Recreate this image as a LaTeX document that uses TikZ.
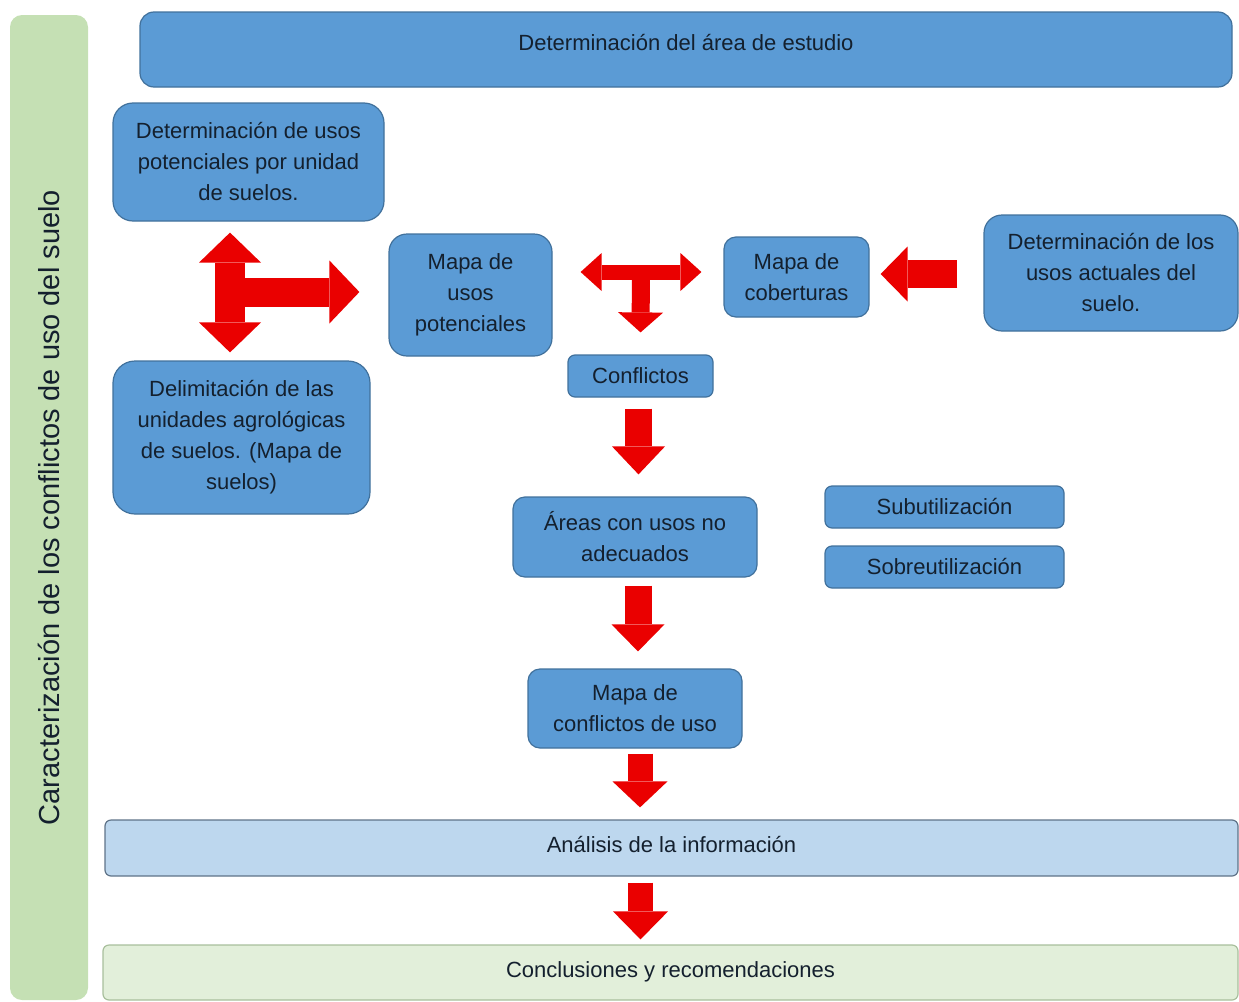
\documentclass[tikz,border=0pt]{standalone}
\usepackage{fontspec}
\setmainfont{Liberation Sans}
\usepackage{xcolor}
\usetikzlibrary{arrows.meta,calc}

\definecolor{azul}{HTML}{5B9BD5}
\definecolor{bordeazul}{HTML}{41719C}
\definecolor{azulclaro}{HTML}{BDD7EE}
\definecolor{bordegris}{HTML}{5F7388}
\definecolor{verdeclaro}{HTML}{E2EFDA}
\definecolor{bordeverde}{HTML}{A8BF9C}
\definecolor{verdebarra}{HTML}{C5E0B4}
\definecolor{rojo}{HTML}{EA0000}
\definecolor{texto}{HTML}{14202E}

\tikzset{
  caja/.style={draw=bordeazul, line width=1.2pt, fill=azul, rounded corners=12pt, text=texto,
    align=center, inner sep=2pt, font=\fontsize{22}{31}\selectfont},
  flecha/.style n args={3}{rojo, line width=#1, -{Triangle[width=#2,length=#3,line width=0pt]}},
  doble/.style n args={3}{rojo, line width=#1,
    {Triangle[width=#2,length=#3,line width=0pt]}-{Triangle[width=#2,length=#3,line width=0pt]}}
}

\begin{document}
\begin{tikzpicture}[x=1pt,y=-1pt]
\useasboundingbox (0,0) rectangle (1239,1001);

\node (barra) at (49,507.5) [rotate=90, fill=verdebarra, rounded corners=12pt, minimum width=985pt,
  minimum height=78pt, font=\fontsize{29}{35}\selectfont, text=texto] {Caracterización de los conflictos de uso del suelo};

\node (det) at (686,49.5) [caja, minimum width=1092pt, minimum height=75pt, rounded corners=14pt] {\raisebox{14pt}{Determinación del área de estudio}};
\node (pot) at (248.5,162) [caja, minimum width=271pt, minimum height=118pt, rounded corners=20pt] {Determinación de usos\\potenciales por unidad\\de suelos.};
\node (del) at (241.5,437.5) [caja, minimum width=257pt, minimum height=153pt, rounded corners=22pt] {Delimitación de las\\unidades agrológicas\\de suelos. (Mapa de\\suelos)};
\node (mpot) at (470.5,295) [caja, minimum width=163pt, minimum height=122pt, rounded corners=18pt] {Mapa de\\usos\\potenciales};
\node (mcob) at (796.5,277) [caja, minimum width=145pt, minimum height=80pt] {Mapa de\\coberturas};
\node (act) at (1111,273) [caja, minimum width=254pt, minimum height=116pt, rounded corners=18pt] {Determinación de los\\usos actuales del\\suelo.};
\node (conf) at (640.5,376) [caja, minimum width=145pt, minimum height=42pt, rounded corners=7pt] {Conflictos};
\node (areas) at (635,537) [caja, minimum width=244pt, minimum height=80pt] {Áreas con usos no\\adecuados};
\node (sub) at (944.5,507) [caja, minimum width=239pt, minimum height=42pt, rounded corners=7pt] {Subutilización};
\node (sobre) at (944.5,567) [caja, minimum width=239pt, minimum height=42pt, rounded corners=7pt] {Sobreutilización};
\node (mconf) at (635,708.5) [caja, minimum width=214pt, minimum height=79pt] {Mapa de\\conflictos de uso};
\node (anal) at (671.5,848) [caja, fill=azulclaro, draw=bordegris, minimum width=1133pt, minimum height=56pt, rounded corners=6pt] {\raisebox{7pt}{Análisis de la información}};
\node (concl) at (670.5,972.5) [caja, fill=verdeclaro, draw=bordeverde, minimum width=1135pt, minimum height=55pt, rounded corners=6pt] {\raisebox{6pt}{Conclusiones y recomendaciones}};

\coordinate (cruce) at (230,292);
\coordinate (te) at (641,272);

\draw [doble={30pt}{62pt}{30pt}] ($(pot.south)+(-18.5,11)$) -- ($(del.north)+(-11.5,-8)$);
\draw [flecha={29pt}{63pt}{30pt}] (cruce) -- ($(mpot.west)+(-29,-3)$);
\draw [doble={15pt}{38pt}{21pt}] ($(mpot.east)+(28,-23)$) -- ($(mcob.west)+(-22,-5)$);
\draw [flecha={18pt}{45pt}{20pt}] (te) -- ($(conf.north)+(0,-22)$);
\draw [flecha={28pt}{55pt}{27pt}] ($(act.west)+(-26,1)$) -- ($(mcob.east)+(11,-3)$);
\draw [flecha={27pt}{53pt}{28pt}] ($(conf.south)+(-2,11)$) -- ($(conf.south |- areas.north)+(-2,-22)$);
\draw [flecha={27pt}{53pt}{27pt}] ($(areas.south)+(3,8)$) -- ($(areas.south |- mconf.north)+(3,-17)$);
\draw [flecha={25pt}{55pt}{26pt}] ($(mconf.south)+(5,5)$) -- ($(mconf.south |- anal.north)+(5,-12)$);
\draw [flecha={25pt}{55pt}{28pt}] ($(anal.south)+(-31,6)$) -- ($(anal.south |- concl.north)+(-31,-5)$);
\end{tikzpicture}
\end{document}
